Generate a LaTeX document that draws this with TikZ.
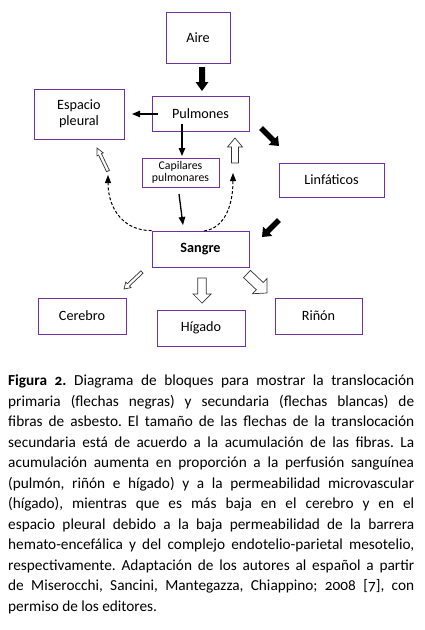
\documentclass[tikz,border=0pt]{standalone}
\usepackage{fontspec}
\setmainfont{Carlito}[Numbers=OldStyle]
\usetikzlibrary{calc,arrows.meta}
\definecolor{boxpurple}{HTML}{7030A0}
\newcommand{\blkarrow}[6]{%
  \coordinate (tmpc) at ($(#2)!#5!(#1)$);
  \draw[#6] ($(#1)!#3!90:(#2)$) -- ($(tmpc)!#3!90:(#2)$) -- ($(tmpc)!#4!90:(#2)$) -- (#2)
    -- ($(tmpc)!#4!-90:(#2)$) -- ($(tmpc)!#3!-90:(#2)$) -- ($(#1)!#3!-90:(#2)$) -- cycle;
}
\newcommand{\capline}[1]{\hbox to\hsize{#1}}
\tikzset{
  blk/.style={draw=boxpurple, line width=0.9pt, inner sep=2pt, align=center, font=\fontsize{14.2}{15.5}\selectfont},
  solidarr/.style={fill=black, draw=none},
  hollowarr/.style={fill=white, draw=black!80, line width=0.7pt, line join=miter},
  thinarr/.style={line width=1.3pt, -{Triangle[length=8pt,width=6.5pt]}},
  dashcurve/.style={line width=1pt, dash pattern=on 3pt off 2pt, -{Triangle[length=8pt,width=6pt]}}
}
\begin{document}
\begin{tikzpicture}[x=1pt,y=-1pt]
\fill[white] (0,0) rectangle (424,630);
\useasboundingbox (0,0) rectangle (424,630);

\node[blk, minimum width=64pt, minimum height=51pt] (aire) at (198,37.5) {Aire};
\node[blk, minimum width=97pt, minimum height=35pt] (pulm) at (200.5,113.5) {Pulmones};
\node[blk, minimum width=90pt, minimum height=50pt] (pleu) at (79,114) {Espacio\\pleural};
\node[blk, minimum width=77pt, minimum height=29pt, font=\fontsize{11.8}{11.5}\selectfont] (capi) at (180.5,172.5) {Capilares\\pulmonares};
\node[blk, minimum width=105pt, minimum height=34pt] (linf) at (331.5,180) {Linfáticos};
\node[blk, minimum width=97pt, minimum height=36pt, font=\fontsize{14.2}{15.5}\selectfont\bfseries] (sang) at (200.5,249) {Sangre};
\node[blk, minimum width=88pt, minimum height=36pt] (cere) at (82,316) {Cerebro};
\node[blk, minimum width=88pt, minimum height=36pt] (higa) at (201,328) {Hígado};
\node[blk, minimum width=87pt, minimum height=36pt] (rino) at (318.5,316) {Riñón};

% arrow end points
\coordinate (a1s) at (202,67);  \coordinate (a1e) at (202,91);
\coordinate (a2s) at (261,128); \coordinate (a2e) at (279,146);
\coordinate (a3s) at (279,220); \coordinate (a3e) at (262,237);
\coordinate (p1s) at (158,114); \coordinate (p1e) at (132,114);
\coordinate (p2s) at (182,124); \coordinate (p2e) at (182,156);
\coordinate (p3s) at (179,194); \coordinate (p3e) at (183,225);
\coordinate (h1s) at (235,163); \coordinate (h1e) at (235,138);
\coordinate (h2s) at (108,171); \coordinate (h2e) at (97,148);
\coordinate (h3s) at (142,272); \coordinate (h3e) at (124,289);
\coordinate (h4s) at (202,278); \coordinate (h4e) at (202,303);
\coordinate (h5s) at (247,274); \coordinate (h5e) at (267,293);
\coordinate (d1s) at (sang.north west); \coordinate (d1e) at (108,175);
\coordinate (d2s) at (204,231); \coordinate (d2e) at (233,173);

% primary (black) arrows
\blkarrow{a1s}{a1e}{3pt}{6.5pt}{9pt}{solidarr}
\blkarrow{a2s}{a2e}{2.8pt}{6.5pt}{8pt}{solidarr}
\blkarrow{a3s}{a3e}{2.8pt}{6.5pt}{8pt}{solidarr}
\draw[thinarr] (p1s) -- (p1e);
\draw[thinarr] (p2s) -- (p2e);
\draw[thinarr] (p3s) -- (p3e);

% secondary (white) arrows
\blkarrow{h1s}{h1e}{3.5pt}{7.5pt}{9pt}{hollowarr}
\blkarrow{h2s}{h2e}{1.6pt}{3.5pt}{7pt}{hollowarr}
\blkarrow{h3s}{h3e}{1.6pt}{3.8pt}{6pt}{hollowarr}
\blkarrow{h4s}{h4e}{4.3pt}{9pt}{9pt}{hollowarr}
\blkarrow{h5s}{h5e}{5pt}{10.5pt}{10pt}{hollowarr}

% dashed curves
\draw[dashcurve] (d1s) .. controls (125,231) and (108,210) .. (d1e);
\draw[dashcurve] (d2s) .. controls (225,228) and (233,205) .. (d2e);

% caption
\node[anchor=north west, inner sep=0pt, font=\fontsize{15.3}{20.5}\selectfont] (cap) at (8,375) {%
\vbox{\hsize=406pt\baselineskip=20.5pt\lineskiplimit=-10pt\frenchspacing
\spaceskip=0.22em plus 1em minus 0.15em\xspaceskip=\spaceskip
\capline{\textbf{Figura 2.} Diagrama de bloques para mostrar la translocación}
\capline{primaria (flechas negras) y secundaria (flechas blancas) de}
\capline{fibras de asbesto. El tamaño de las flechas de la translocación}
\capline{secundaria está de acuerdo a la acumulación de las fibras. La}
\capline{acumulación aumenta en proporción a la perfusión sanguínea}
\capline{(pulmón, riñón e hígado) y a la permeabilidad microvascular}
\capline{(hígado), mientras que es más baja en el cerebro y en el}
\capline{espacio pleural debido a la baja permeabilidad de la barrera}
\capline{hemato-encefálica y del complejo endotelio-parietal mesotelio,}
\capline{respectivamente. Adaptación de los autores al español a partir}
\capline{de Miserocchi, Sancini, Mantegazza, Chiappino; 2008 [7], con}
\hbox{permiso de los editores.}}};
\end{tikzpicture}
\end{document}
